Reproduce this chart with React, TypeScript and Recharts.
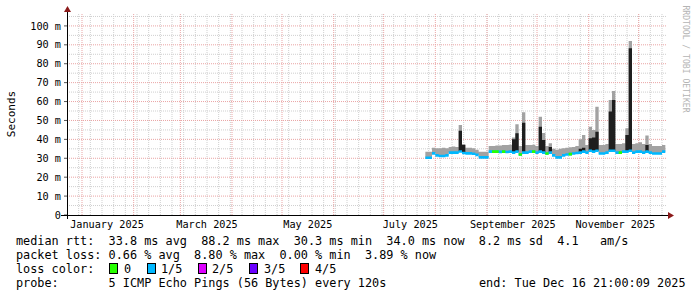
import React from 'react'
import { ComposedChart, Area, XAxis, YAxis, CartesianGrid } from 'recharts'

// days counted from 1 Jan 2025, one step = 2 days
const days = [
  206, 208, 210, 212, 214, 216, 218, 220, 222, 224, 226, 228, 230, 232, 234, 236, 238, 240, 242, 244,
  246, 248, 250, 252, 254, 256, 258, 260, 262, 264, 266, 268, 270, 272, 274, 276, 278, 280, 282, 284,
  286, 288, 290, 292, 294, 296, 298, 300, 302, 304, 306, 308, 310, 312, 314, 316, 318, 320, 322, 324,
  326, 328, 330, 332, 334, 336, 338, 340, 342, 344, 346, 348, 350,
]
// median rtt in ms
const medianRtt = [
  30.3, 30.3, 32.6, 31.5, 31.2, 31.2, 31.5, 33.0, 33.0, 33.0, 33.6, 32.8, 32.6, 32.6, 32.4, 31.8, 30.5, 30.5, 30.5, 33.5,
  33.5, 33.5, 33.4, 33.5, 33.3, 33.5, 33.0, 33.5, 32.0, 33.0, 33.0, 33.5, 33.5, 33.0, 33.5, 33.0, 32.5, 33.0, 31.5, 30.5,
  30.5, 31.5, 32.0, 32.2, 32.5, 32.8, 33.0, 33.5, 33.0, 34.0, 33.5, 34.0, 32.5, 32.5, 33.0, 34.0, 34.0, 33.0, 33.0, 33.5,
  33.5, 34.0, 33.0, 33.5, 33.5, 33.0, 33.5, 33.0, 32.5, 32.5, 32.5, 33.5, 33.5,
]
// top of the grey smoke
const smokeTop = [
  33.5, 33.5, 35.5, 35.3, 35.3, 35.5, 35.3, 36.0, 36.2, 36.0, 47.6, 37.5, 35.5, 35.5, 35.3, 34.5, 33.5, 33.5, 33.5, 36.5,
  36.5, 36.8, 36.8, 37.0, 37.0, 37.2, 41.0, 48.0, 36.5, 54.3, 37.0, 37.0, 37.2, 36.5, 52.0, 43.4, 36.5, 38.0, 35.0, 34.5,
  35.0, 35.3, 35.5, 35.8, 36.0, 36.5, 40.0, 42.3, 37.0, 46.7, 45.0, 57.3, 37.0, 37.0, 37.5, 60.8, 65.6, 37.5, 37.5, 38.0,
  45.9, 92.0, 37.5, 38.0, 38.5, 37.5, 42.0, 37.5, 36.5, 36.5, 36.5, 37.0, 37.0,
]
// top of the dark smoke on the spikes
const darkTop: (number | null)[] = [
  null, null, null, null, null, null, null, null, null, null, 44.6, 37.0, null, null, null, null, null, null, null, null,
  null, null, null, null, null, null, 40.0, 43.2, null, 48.8, null, null, null, null, 46.7, 39.7, null, 36.0, null, null,
  null, null, null, null, null, null, 35.0, 35.5, null, 40.6, 41.0, 44.0, null, null, null, 54.7, 60.8, null, null, null,
  42.3, 88.2, null, null, null, null, 37.0, null, null, null, null, null, null,
]
// lost pings out of 5
const lossLevel = [
  1, 1, 1, 1, 1, 1, 1, 1, 1, 1, 1, 1, 1, 1, 1, 1, 1, 1, 1, 1,
  0, 0, 1, 0, 1, 1, 1, 1, 0, 1, 1, 1, 0, 1, 1, 1, 0, 1, 1, 1,
  1, 1, 1, 0, 1, 1, 1, 1, 1, 1, 1, 1, 1, 1, 1, 1, 1, 1, 0, 1,
  1, 1, 1, 1, 1, 1, 1, 1, 1, 1, 1, 1, 1,
]

const X_MIN = -9
const X_MAX = 351
const Y_MAX = 106.3
const monthStarts = [0, 31, 59, 90, 120, 151, 181, 212, 243, 273, 304, 334]
const weekStarts = Array.from({ length: 51 }, (_, k) => -2 + 7 * k)
const monthTicks = [15, 75, 135.5, 197, 258.5, 320]
const monthLabels = ['January 2025', 'March 2025', 'May 2025', 'July 2025', 'September 2025', 'November 2025']
const rttTicks = [0, 10, 20, 30, 40, 50, 60, 70, 80, 90, 100]
const rttMajor = [10, 20, 30, 40, 50, 60, 70, 80, 90, 100]
const rttMinor = [5, 15, 25, 35, 45, 55, 65, 75, 85, 95, 105]

const lossColors = ['#26ff00', '#00b8ff', '#dd00ff', '#6a00ff', '#ff0000']
const lossNames = ['0', '1/5', '2/5', '3/5', '4/5']

// half thickness of the median line, in ms
const HALF = 0.7

const data = days.map((d, i) => ({
  day: d,
  smoke: [medianRtt[i], smokeTop[i]],
  dark: [medianRtt[i], darkTop[i] ?? medianRtt[i]],
  median: [medianRtt[i] - HALF, medianRtt[i] + HALF],
  noLoss: lossLevel[i] === 0 ? [medianRtt[i] - HALF, medianRtt[i] + HALF] : [medianRtt[i], medianRtt[i]],
}))

const MONO = '"DejaVu Sans Mono", monospace'
const tickStyle = { fontSize: 10.2, fill: '#000', fontFamily: MONO }

// grid positions go through the axis scale when recharts hands it over
const xPix = (xAxis: any, offset: any, v: number) =>
  typeof xAxis?.scale === 'function' ? xAxis.scale(v) : offset.left + ((v - X_MIN) / (X_MAX - X_MIN)) * offset.width
const yPix = (yAxis: any, offset: any, v: number) =>
  typeof yAxis?.scale === 'function' ? yAxis.scale(v) : offset.top + (1 - v / Y_MAX) * offset.height

function Txt({ x, y, children }: { x: number; y: number; children: React.ReactNode }) {
  return (
    <div style={{ position: 'absolute', left: x, top: y, lineHeight: '14px', fontSize: 11.83, whiteSpace: 'pre', color: '#000' }}>
      {children}
    </div>
  )
}

export default function App() {
  const boxX = [109, 147, 198, 249, 300]
  const nameX = [124, 161, 212, 264, 315]
  return (
    <div style={{ position: 'absolute', left: 0, top: 0, width: 697, height: 297, background: '#fff', fontFamily: MONO, overflow: 'hidden' }}>
      <ComposedChart width={697} height={235} data={data} margin={{ top: 14, right: 30, bottom: 0, left: 0 }}>
        <XAxis
          xAxisId="t" dataKey="day" type="number" domain={[X_MIN, X_MAX]} allowDataOverflow
          ticks={monthTicks} interval={0} height={20}
          tickFormatter={(v: number) => monthLabels[monthTicks.indexOf(v)] ?? ''}
          axisLine={false} tickLine={false} tickSize={0} tickMargin={6} tick={tickStyle}
        />
        <YAxis
          yAxisId="rtt" type="number" domain={[0, Y_MAX]} allowDataOverflow ticks={rttTicks} interval={0} width={67}
          tickFormatter={(v: number) => (v === 0 ? '0' : `${v} m`)}
          axisLine={false} tickLine={{ stroke: '#555' }} tickSize={3} tickMargin={3} tick={tickStyle}
        />
        <CartesianGrid
          xAxisId="t" yAxisId="rtt" stroke="#cfcfcf" strokeDasharray="1 1"
          verticalCoordinatesGenerator={({ xAxis, offset }: any) => weekStarts.map((d) => xPix(xAxis, offset, d))}
          horizontalCoordinatesGenerator={({ yAxis, offset }: any) => rttMinor.map((v) => yPix(yAxis, offset, v))}
        />
        <CartesianGrid
          xAxisId="t" yAxisId="rtt" stroke="#eaa4a4" strokeDasharray="1 1"
          verticalCoordinatesGenerator={({ xAxis, offset }: any) => monthStarts.map((d) => xPix(xAxis, offset, d))}
          horizontalCoordinatesGenerator={({ yAxis, offset }: any) => rttMajor.map((v) => yPix(yAxis, offset, v))}
        />
        <Area xAxisId="t" yAxisId="rtt" type="stepAfter" dataKey="smoke" stroke="none" fill="#a2a2a2" fillOpacity={1} isAnimationActive={false} dot={false} activeDot={false} />
        <Area xAxisId="t" yAxisId="rtt" type="stepAfter" dataKey="dark" stroke="none" fill="#1e1e1e" fillOpacity={1} isAnimationActive={false} dot={false} activeDot={false} />
        <Area xAxisId="t" yAxisId="rtt" type="stepAfter" dataKey="median" stroke="none" fill={lossColors[1]} fillOpacity={1} isAnimationActive={false} dot={false} activeDot={false} />
        <Area xAxisId="t" yAxisId="rtt" type="stepAfter" dataKey="noLoss" stroke="none" fill={lossColors[0]} fillOpacity={1} isAnimationActive={false} dot={false} activeDot={false} />
      </ComposedChart>

      <svg width={697} height={297} style={{ position: 'absolute', left: 0, top: 0, pointerEvents: 'none' }}>
        <line x1={61} y1={215.5} x2={668} y2={215.5} stroke="#000" strokeWidth={1} />
        <line x1={67.5} y1={219} x2={67.5} y2={12} stroke="#000" strokeWidth={1} />
        <polygon points="668,212 674,215.5 668,219" fill="#8b1a1a" />
        <polygon points="64,12 67.5,6 71,12" fill="#8b1a1a" />
        <text x={11} y={114} transform="rotate(-90 11 114)" textAnchor="middle" dominantBaseline="central" fontSize={11} fontFamily={MONO} fill="#000">Seconds</text>
        <text x={686} y={59} transform="rotate(90 686 59)" textAnchor="middle" dominantBaseline="central" fontSize={8.1} fontFamily={MONO} fill="#b4b4b4">RRDTOOL / TOBI OETIKER</text>
      </svg>

      <Txt x={16} y={234}>{'median rtt:  33.8 ms avg  88.2 ms max  30.3 ms min  34.0 ms now  8.2 ms sd  4.1   am/s'}</Txt>
      <Txt x={16} y={248}>{'packet loss: 0.66 % avg  8.80 % max  0.00 % min  3.89 % now'}</Txt>
      <Txt x={16} y={262}>loss color:</Txt>
      {lossColors.map((c, i) => (
        <div key={c} style={{ position: 'absolute', left: boxX[i], top: 263, width: 7, height: 9, background: c, border: '1px solid #000' }} />
      ))}
      {lossNames.map((n, i) => (
        <Txt key={n} x={nameX[i]} y={262}>{n}</Txt>
      ))}
      <Txt x={16} y={276}>{'probe:       5 ICMP Echo Pings (56 Bytes) every 120s'}</Txt>
      <Txt x={479} y={276}>end: Tue Dec 16 21:00:09 2025</Txt>
    </div>
  )
}
